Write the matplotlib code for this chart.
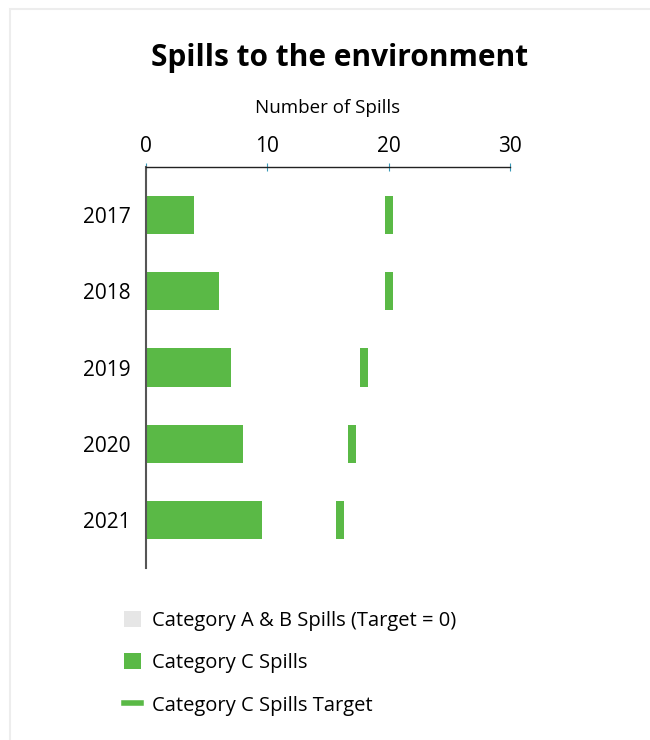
import matplotlib.pyplot as plt
from matplotlib.patches import Patch, Rectangle
from matplotlib.lines import Line2D

plt.rcParams['font.family'] = ['Open Sans', 'DejaVu Sans']

# Data
years = ['2017', '2018', '2019', '2020', '2021']
cat_ab = [0, 0, 0, 0, 0]
cat_c = [4, 6, 7, 8, 9.6]
cat_c_target = [20, 20, 18, 17, 16]
x_ticks = [0, 10, 20, 30]

green = '#5ab946'
grey = '#e6e6e6'

fig = plt.figure(figsize=(6.5, 7.4), dpi=100)

# light card border
fig.patches.append(Rectangle((10 / 650, -0.01), 1.0, 1 - 9 / 740 + 0.01,
                             transform=fig.transFigure, fill=False,
                             edgecolor='#ededed', linewidth=1.5))

ax = fig.add_axes([0.2242, 0.2324, 0.5604, 0.5419])

pos = list(range(len(years)))
ax.barh(pos, cat_ab, height=0.5, color=grey)
ax.barh(pos, cat_c, left=cat_ab, height=0.5, color=green)
# target drawn as a narrow bar
ax.barh(pos, [0.66] * len(years), left=[t - 0.33 for t in cat_c_target],
        height=0.5, color=green)

ax.set_xlim(0, 30)
ax.set_ylim(4.63, -0.63)
ax.set_yticks(pos)
ax.set_yticklabels(years)
ax.set_xticks(x_ticks)
ax.xaxis.tick_top()
ax.xaxis.set_label_position('top')
ax.set_xlabel('Number of Spills', fontsize=13.5, labelpad=17)

ax.tick_params(axis='x', direction='inout', length=6, color='#3a9ab8',
               labelsize=15, pad=4)
ax.tick_params(axis='y', length=0, labelsize=15, pad=11)

for s in ['right', 'bottom']:
    ax.spines[s].set_visible(False)
ax.spines['top'].set_color('#222222')
ax.spines['top'].set_linewidth(1)
ax.spines['left'].set_color('#555555')
ax.spines['left'].set_linewidth(1.5)

fig.text(0.523, 0.921, 'Spills to the environment', ha='center', va='center',
         fontsize=21.5, fontweight='bold')

handles = [
    Patch(facecolor=grey, label='Category A & B Spills (Target = 0)'),
    Patch(facecolor=green, label='Category C Spills'),
    Line2D([0], [0], color=green, linewidth=4, label='Category C Spills Target'),
]
fig.legend(handles=handles, loc='upper left', bbox_to_anchor=(0.163, 0.199),
           frameon=False, fontsize=14.5, labelspacing=1.12, handlelength=0.85,
           handleheight=0.85, handletextpad=0.55)

plt.savefig('out.png', dpi=100)
